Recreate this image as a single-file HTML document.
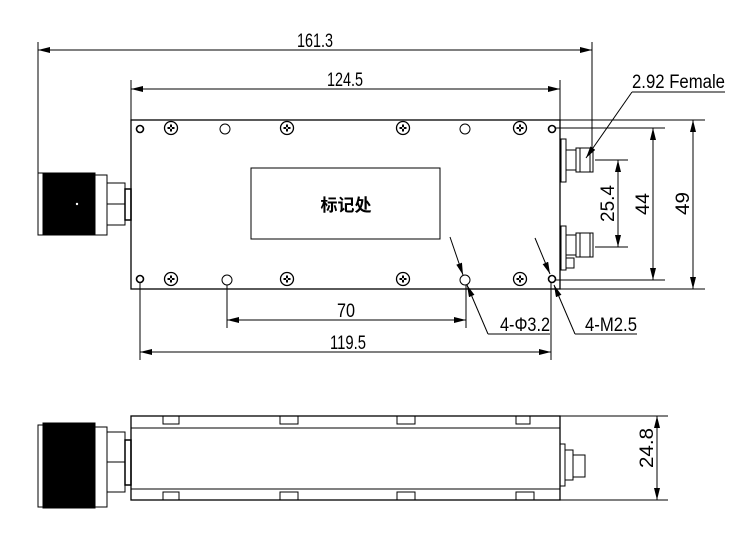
<!DOCTYPE html>
<html><head><meta charset="utf-8"><style>
html,body{margin:0;padding:0;background:#fff}
svg{display:block}
text{font-family:"Liberation Sans","Noto Sans CJK SC",sans-serif;fill:#000}
</style></head><body>
<svg width="745" height="536" viewBox="0 0 745 536" xmlns="http://www.w3.org/2000/svg">
<defs>
<marker id="a" viewBox="0 0 12 6" refX="12" refY="3" markerWidth="12" markerHeight="6" orient="auto-start-reverse" markerUnits="userSpaceOnUse"><path d="M0,0 L12,3 L0,6 z" fill="#000"/></marker>
<g id="scr"><circle r="6.5" fill="none" stroke="#000" stroke-width="1.3"/><path d="M-3.5,0H3.5M0,-3.5V3.5" stroke="#000" stroke-width="2"/><circle r="1" fill="#fff"/></g>
</defs>
<g stroke="#000" fill="none" stroke-width="1">
<rect x="131" y="120" width="429" height="169" stroke-width="1.3"/>
<rect x="251" y="168" width="189" height="71"/>
<g stroke-width="1.6"><circle cx="140" cy="129" r="3.5"/><circle cx="140" cy="279" r="3.5"/><circle cx="552" cy="129" r="3.5"/><circle cx="552" cy="279" r="3.5"/></g>
<circle cx="225" cy="129" r="5"/><circle cx="465" cy="129" r="5"/><circle cx="227" cy="280" r="5"/><circle cx="465" cy="280" r="5"/>
<rect x="38" y="173" width="5" height="62"/>
<rect x="43" y="173" width="52" height="62" fill="#000"/>
<rect x="95" y="175" width="12" height="60"/>
<rect x="107" y="183" width="18" height="42"/><line x1="107" y1="204" x2="125" y2="204"/>
<rect x="125" y="189" width="6" height="31" stroke-width="1.5"/>
<rect x="561" y="139" width="5" height="43"/><rect x="566" y="150" width="10" height="20"/><rect x="576" y="148" width="17" height="24"/><line x1="580" y1="148" x2="580" y2="172"/><line x1="590" y1="148" x2="590" y2="172"/>
<rect x="561" y="226" width="5" height="44"/><rect x="566" y="235" width="10" height="20"/><rect x="576" y="233" width="17" height="24"/><line x1="580" y1="233" x2="580" y2="257"/><line x1="590" y1="233" x2="590" y2="257"/><rect x="566" y="258" width="8" height="10"/>
<line x1="38" y1="42" x2="38" y2="173"/><line x1="592" y1="42" x2="592" y2="150"/>
<line x1="38" y1="50" x2="592" y2="50" marker-start="url(#a)" marker-end="url(#a)"/>
<line x1="131" y1="80" x2="131" y2="120"/><line x1="560" y1="80" x2="560" y2="120"/>
<line x1="131" y1="89" x2="560" y2="89" marker-start="url(#a)" marker-end="url(#a)"/>
<line x1="632" y1="92" x2="725" y2="92"/><line x1="632" y1="92" x2="586" y2="158" marker-end="url(#a)"/>
<line x1="595" y1="160" x2="628" y2="160"/><line x1="595" y1="247" x2="628" y2="247"/>
<line x1="618" y1="160" x2="618" y2="247" marker-start="url(#a)" marker-end="url(#a)"/>
<line x1="556" y1="128" x2="665" y2="128"/><line x1="556" y1="280" x2="665" y2="280"/>
<line x1="653" y1="128" x2="653" y2="280" marker-start="url(#a)" marker-end="url(#a)"/>
<line x1="560" y1="120" x2="705" y2="120"/><line x1="560" y1="289" x2="705" y2="289"/>
<line x1="693" y1="120" x2="693" y2="289" marker-start="url(#a)" marker-end="url(#a)"/>
<line x1="227" y1="285" x2="227" y2="328"/><line x1="466" y1="285" x2="466" y2="328"/>
<line x1="227" y1="320" x2="466" y2="320" marker-start="url(#a)" marker-end="url(#a)"/>
<line x1="140" y1="283" x2="140" y2="360"/><line x1="551" y1="283" x2="551" y2="360"/>
<line x1="140" y1="352" x2="551" y2="352" marker-start="url(#a)" marker-end="url(#a)"/>
<line x1="450" y1="237" x2="463" y2="275" marker-end="url(#a)"/>
<line x1="488" y1="334" x2="467" y2="285" marker-end="url(#a)"/><line x1="488" y1="334" x2="550" y2="334"/>
<line x1="535" y1="238" x2="550" y2="274" marker-end="url(#a)"/>
<line x1="575" y1="334" x2="554" y2="285" marker-end="url(#a)"/><line x1="575" y1="334" x2="637" y2="334"/>
<rect x="131" y="416" width="429" height="84" stroke-width="1.3"/>
<line x1="131" y1="428" x2="560" y2="428"/><line x1="131" y1="489" x2="560" y2="489"/>
<rect x="163" y="416" width="16" height="8"/><rect x="280" y="416" width="18" height="8"/><rect x="397" y="416" width="18" height="8"/><rect x="516" y="416" width="14" height="8"/>
<rect x="163" y="492" width="16" height="8"/><rect x="280" y="492" width="18" height="8"/><rect x="397" y="492" width="18" height="8"/><rect x="516" y="492" width="18" height="8"/>
<rect x="38" y="425" width="5" height="82"/>
<rect x="43" y="423" width="52" height="85" fill="#000"/>
<rect x="95" y="427" width="12" height="80"/>
<rect x="107" y="432" width="18" height="60"/><line x1="107" y1="462" x2="125" y2="462"/>
<rect x="125" y="440" width="6" height="45" stroke-width="1.5"/>
<rect x="560" y="444" width="5" height="42"/><rect x="565" y="450" width="8" height="30"/><rect x="573" y="455" width="12" height="22"/>
<line x1="560" y1="416" x2="668" y2="416"/><line x1="560" y1="500" x2="668" y2="500"/>
<line x1="657" y1="416" x2="657" y2="500" marker-start="url(#a)" marker-end="url(#a)"/>
</g>
<g>
<use href="#scr" x="171" y="128"/><use href="#scr" x="287" y="128"/><use href="#scr" x="403" y="128"/><use href="#scr" x="520" y="128"/>
<use href="#scr" x="171" y="279"/><use href="#scr" x="287" y="279"/><use href="#scr" x="403" y="279"/><use href="#scr" x="520" y="279"/>
</g>
<circle cx="77" cy="204" r="1.2" fill="#fff"/>
<g font-size="19" lengthAdjust="spacingAndGlyphs">
<text x="297" y="47" textLength="36" lengthAdjust="spacingAndGlyphs">161.3</text>
<text x="327" y="86" textLength="36" lengthAdjust="spacingAndGlyphs">124.5</text>
<text x="632" y="88" textLength="93" lengthAdjust="spacingAndGlyphs">2.92 Female</text>
<text x="337" y="317" textLength="18" lengthAdjust="spacingAndGlyphs">70</text>
<text x="330" y="349" textLength="36" lengthAdjust="spacingAndGlyphs">119.5</text>
<text x="500" y="331" textLength="50" lengthAdjust="spacingAndGlyphs">4-Φ3.2</text>
<text x="585" y="331" textLength="52" lengthAdjust="spacingAndGlyphs">4-M2.5</text>
<text transform="translate(614,222) rotate(-90)" textLength="37" lengthAdjust="spacingAndGlyphs">25.4</text>
<text transform="translate(649,215) rotate(-90)" textLength="22" lengthAdjust="spacingAndGlyphs">44</text>
<text transform="translate(689,215) rotate(-90)" textLength="23" lengthAdjust="spacingAndGlyphs">49</text>
<text transform="translate(653,468) rotate(-90)" textLength="40" lengthAdjust="spacingAndGlyphs">24.8</text>
<text x="346" y="211" text-anchor="middle" font-size="17" font-weight="bold">标记处</text>
</g>
</svg>
</body></html>
